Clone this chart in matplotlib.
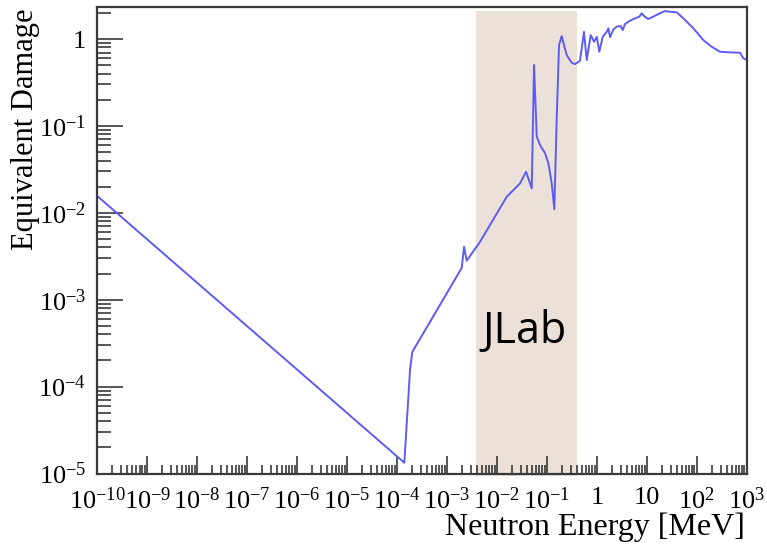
import numpy as np
import matplotlib
matplotlib.use("Agg")
import matplotlib.pyplot as plt
from matplotlib.ticker import FixedLocator, FixedFormatter, LogLocator, NullFormatter

# Displacement damage function (equivalent damage vs. neutron energy)
energy_mev = [
    1e-10, 1.4e-4, 1.82e-4, 2.02e-4, 1.97e-3, 2.2e-3, 2.48e-3, 4.6e-3,
    1.57e-2, 2.9e-2, 3.83e-2, 4.98e-2, 5.53e-2, 6.27e-2, 7.3e-2, 9.2e-2,
    0.107, 0.125, 0.141, 0.157, 0.175, 0.198, 0.220, 0.249, 0.314, 0.366,
    0.46, 0.553, 0.628, 0.755, 0.879, 1.0, 1.12, 1.31, 1.58, 1.70, 1.84,
    2.14, 2.50, 3.01, 3.30, 3.67, 4.62, 5.82, 7.10, 7.93, 8.81, 10.7, 13.5,
    17.0, 23.2, 29.2, 39.8, 54.0, 85.5, 135.5, 199.5, 292, 465, 736, 857, 957,
]
damage = [
    0.0156, 1.33e-5, 1.55e-4, 2.50e-4, 2.32e-3, 4.07e-3, 2.81e-3, 4.65e-3,
    1.53e-2, 2.18e-2, 2.97e-2, 1.91e-2, 0.502, 0.0752, 0.0603, 0.0484,
    0.0372, 0.0218, 0.0110, 0.117, 0.853, 1.08, 0.853, 0.655, 0.533, 0.515,
    0.562, 1.21, 0.573, 1.11, 0.931, 1.06, 0.714, 1.06, 1.21, 1.33, 1.05,
    1.29, 1.39, 1.41, 1.27, 1.49, 1.63, 1.73, 1.81, 1.98, 1.84, 1.70, 1.81,
    1.94, 2.10, 2.06, 2.03, 1.73, 1.33, 0.973, 0.815, 0.714, 0.703, 0.695,
    0.600, 0.583,
]

# Energy window highlighted as the JLab range
jlab_range = [3.73e-3, 0.40]
jlab_label = "JLab"

x_ticks = [10.0 ** k for k in range(-10, 4)]
x_tick_labels = [r"$\mathregular{10^{-10}}$", r"$\mathregular{10^{-9}}$",
                 r"$\mathregular{10^{-8}}$", r"$\mathregular{10^{-7}}$",
                 r"$\mathregular{10^{-6}}$", r"$\mathregular{10^{-5}}$",
                 r"$\mathregular{10^{-4}}$", r"$\mathregular{10^{-3}}$",
                 r"$\mathregular{10^{-2}}$", r"$\mathregular{10^{-1}}$",
                 "1", "10", r"$\mathregular{10^{2}}$", r"$\mathregular{10^{3}}$"]
y_ticks = [1e-5, 1e-4, 1e-3, 1e-2, 1e-1, 1]
y_tick_labels = [r"$\mathregular{10^{-5}}$", r"$\mathregular{10^{-4}}$",
                 r"$\mathregular{10^{-3}}$", r"$\mathregular{10^{-2}}$",
                 r"$\mathregular{10^{-1}}$", "1"]

plt.rcParams["font.family"] = ["Liberation Serif", "DejaVu Serif"]
plt.rcParams["mathtext.fontset"] = "custom"
plt.rcParams["mathtext.rm"] = "Liberation Serif"
plt.rcParams["mathtext.it"] = "Liberation Serif:italic"

W, H = 767, 548
fig = plt.figure(figsize=(W / 100, H / 100), dpi=100)
left, right, top, bottom = 97.3, 746.7, 7.3, 473.5
ax = fig.add_axes([left / W, 1 - bottom / H, (right - left) / W, (bottom - top) / H])

ax.set_xscale("log")
ax.set_yscale("log")
ax.set_xlim(1e-10, 1e3)
ax.set_ylim(1e-5, 2.32)

# shaded energy band
ax.axvspan(jlab_range[0], jlab_range[1], ymin=-0.006, ymax=0.992,
           color="#ebe1d9", zorder=0, clip_on=False, lw=0)
ax.text(np.sqrt(jlab_range[0] * jlab_range[1]) * 0.93, 4.3e-4, jlab_label,
        family=["Open Sans", "DejaVu Sans"], fontsize=31, color="black",
        ha="center", va="center", zorder=3)

ax.plot(energy_mev, damage, color="#5c5cf5", lw=1.4, zorder=4)

# axis frame
for side in ax.spines.values():
    side.set_color("#3a3a3a")
    side.set_linewidth(1.6)
    side.set_zorder(5)

ax.xaxis.set_major_locator(FixedLocator(x_ticks))
ax.xaxis.set_major_formatter(FixedFormatter(x_tick_labels))
ax.xaxis.set_minor_locator(LogLocator(base=10, subs=np.arange(2, 10), numticks=100))
ax.xaxis.set_minor_formatter(NullFormatter())
ax.yaxis.set_major_locator(FixedLocator(y_ticks))
ax.yaxis.set_major_formatter(FixedFormatter(y_tick_labels))
ax.yaxis.set_minor_locator(LogLocator(base=10, subs=np.arange(2, 10), numticks=100))
ax.yaxis.set_minor_formatter(NullFormatter())

ax.tick_params(axis="both", which="both", direction="in", color="#3a3a3a",
               top=False, right=False, width=1.2, labelsize=19)
ax.tick_params(axis="x", which="major", length=13, pad=10)
ax.tick_params(axis="x", which="minor", length=6.5)
ax.tick_params(axis="y", which="major", length=19, pad=8)
ax.tick_params(axis="y", which="minor", length=10)

fig.text(745 / W, 1 - 527 / H, "Neutron Energy [MeV]", fontsize=23,
         ha="right", va="center")
fig.text(26 / W, 1 - 8 / H, "Equivalent Damage", fontsize=22,
         rotation=90, ha="center", va="top")

fig.savefig("out.png", dpi=100)
